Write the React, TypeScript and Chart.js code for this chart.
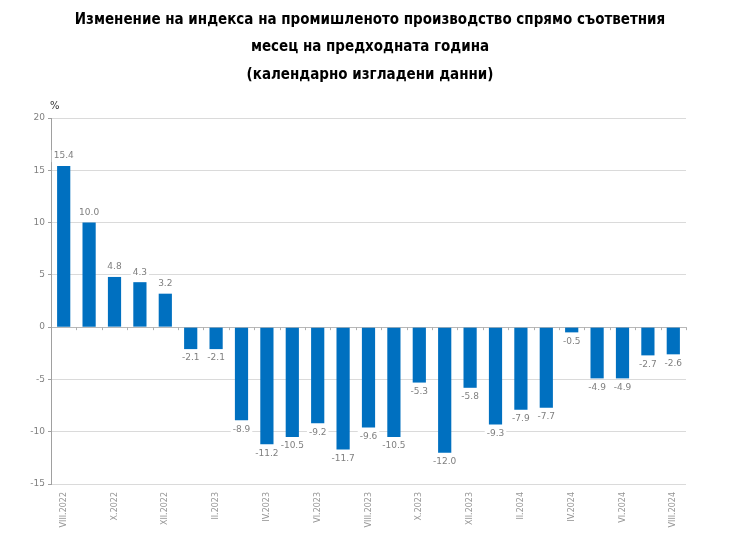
import React, { useEffect, useRef } from "react";
import { Chart, registerables } from "chart.js";

Chart.register(...registerables);

const titleLines = [
  "Изменение на индекса на промишленото производство спрямо съответния",
  "месец на предходната година",
  "(календарно изгладени данни)",
];
const unitLabel = "%";
const months = [
  "VIII.2022", "IX.2022", "X.2022", "XI.2022", "XII.2022",
  "I.2023", "II.2023", "III.2023", "IV.2023", "V.2023", "VI.2023", "VII.2023",
  "VIII.2023", "IX.2023", "X.2023", "XI.2023", "XII.2023",
  "I.2024", "II.2024", "III.2024", "IV.2024", "V.2024", "VI.2024", "VII.2024", "VIII.2024",
];
const changes = [
  15.4, 10.0, 4.8, 4.3, 3.2,
  -2.1, -2.1, -8.9, -11.2, -10.5, -9.2, -11.7,
  -9.6, -10.5, -5.3, -12.0, -5.8,
  -9.3, -7.9, -7.7, -0.5, -4.9, -4.9, -2.7, -2.6,
];
const yMin = -15;
const yMax = 20;
const yStep = 5;

const LABEL_FONT = '9px "DejaVu Sans", Verdana, sans-serif';
const TITLE_FONT = 'bold 15px "Liberation Sans Narrow", "DejaVu Sans Condensed", "Arial Narrow", sans-serif';

const overlayPlugin = {
  id: "overlay",
  afterDatasetsDraw(chart: any) {
    const ctx = chart.ctx;
    const area = chart.chartArea;
    const yScale = chart.scales.y;
    const y0 = yScale.getPixelForValue(0);
    const n = months.length;
    ctx.save();
    ctx.strokeStyle = "#b0b0b0";
    ctx.lineWidth = 1;
    for (let i = 1; i <= n; i++) {
      const x = Math.round(area.left + (i * (area.right - area.left)) / n) + 0.5;
      ctx.beginPath();
      ctx.moveTo(x, y0);
      ctx.lineTo(x, y0 + 3);
      ctx.stroke();
    }
    const meta = chart.getDatasetMeta(0);
    ctx.font = LABEL_FONT;
    ctx.textAlign = "center";
    ctx.textBaseline = "middle";
    meta.data.forEach((bar: any, i: number) => {
      const v = changes[i];
      const txt = v.toFixed(1);
      const ty = v >= 0 ? bar.y - 10 : bar.y + 9;
      const w = ctx.measureText(txt).width + 4;
      ctx.fillStyle = "#ffffff";
      ctx.fillRect(bar.x - w / 2, ty - 6, w, 12);
      ctx.fillStyle = "#7f7f7f";
      ctx.fillText(txt, bar.x, ty);
    });
    ctx.restore();
  },
  afterDraw(chart: any) {
    const ctx = chart.ctx;
    ctx.save();
    ctx.fillStyle = "#000000";
    ctx.font = TITLE_FONT;
    ctx.textAlign = "center";
    ctx.textBaseline = "middle";
    const ys = [20, 47, 75];
    titleLines.forEach((t, i) => ctx.fillText(t, 370, ys[i]));
    ctx.font = '10px "DejaVu Sans", Verdana, sans-serif';
    ctx.fillStyle = "#333333";
    ctx.textAlign = "left";
    ctx.fillText(unitLabel, 50, 106);
    ctx.restore();
  },
};

export default function App() {
  const ref = useRef<HTMLCanvasElement | null>(null);
  useEffect(() => {
    if (!ref.current) return;
    const chart = new Chart(ref.current, {
      type: "bar",
      data: {
        labels: months,
        datasets: [
          {
            data: changes,
            backgroundColor: "#0070c0",
            borderWidth: 0,
            barPercentage: 0.52,
            categoryPercentage: 1,
          },
        ],
      },
      options: {
        responsive: false,
        animation: false,
        layout: { padding: { top: 118, left: 0, right: 54, bottom: 0 } },
        plugins: {
          legend: { display: false },
          title: { display: false },
          tooltip: { enabled: false },
        },
        scales: {
          x: {
            grid: { display: false },
            border: { display: false },
            ticks: {
              autoSkip: false,
              minRotation: 90,
              maxRotation: 90,
              padding: 0,
              color: "#959595",
              font: { family: '"DejaVu Sans", Verdana, sans-serif', size: 8 },
              callback: (_v: any, i: number) => (i % 2 === 0 ? months[i] : ""),
            },
            afterFit: (s: any) => {
              s.height = 62;
            },
          },
          y: {
            min: yMin,
            max: yMax,
            ticks: {
              stepSize: yStep,
              padding: 3,
              color: "#808080",
              font: { family: '"DejaVu Sans", Verdana, sans-serif', size: 9 },
            },
            grid: {
              drawTicks: true,
              tickLength: 3,
              tickColor: "#a0a0a0",
              color: (c: any) => (c.tick && c.tick.value === 0 ? "#b8b8b8" : "#dadada"),
            },
            border: { display: true, color: "#a0a0a0" },
            afterFit: (s: any) => {
              s.width = 51;
            },
          },
        },
      },
      plugins: [overlayPlugin],
    });
    return () => chart.destroy();
  }, []);
  return (
    <div style={{ position: "absolute", left: 0, top: 0, width: 740, height: 546, background: "#fff" }}>
      <canvas ref={ref} width={740} height={546} />
    </div>
  );
}
